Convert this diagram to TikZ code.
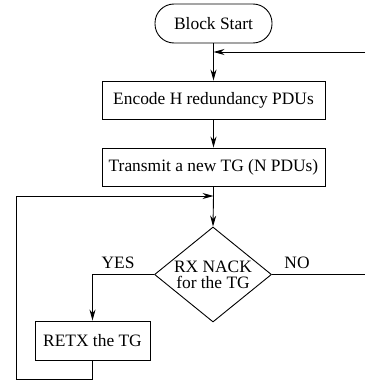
\documentclass[tikz,border=0pt]{standalone}
\usepackage{fontspec}
\setmainfont{Liberation Serif}
\usetikzlibrary{arrows.meta,shapes.geometric}
\begin{document}
\begin{tikzpicture}[x=1pt,y=-1pt,
  every node/.style={font=\fontsize{17.4}{19}\selectfont},
  ln/.style={line width=0.9pt},
  arr/.style={ln,-{Stealth[length=11pt,width=6pt]}},
  box/.style={draw,ln,inner sep=0pt,minimum height=38pt},
  dia/.style={draw,ln,diamond,inner sep=0pt,minimum width=117pt,minimum height=95pt}]
\useasboundingbox (0,0) rectangle (365,380);
\node[box,rounded corners=19pt,minimum width=117pt,minimum height=39pt] (start) at (213.5,23.5) {Block Start};
\node[box,minimum width=223pt] (enc) at (213.5,100) {Encode H redundancy PDUs};
\node[box,minimum width=223pt] (tx) at (213.5,167) {Transmit a new TG (N PDUs)};
\node[dia] (dec) at (213,274.5) {};
\node[align=center,inner sep=0pt] (dectxt) at (213,274.5) {RX NACK\\[-3pt]for the TG};
\node[box,minimum width=115pt,minimum height=39pt] (retx) at (92.5,340.5) {RETX the TG};
\node[inner sep=0pt] (yes) at (118,263) {YES};
\node[inner sep=0pt] (no) at (297,263) {NO};
\coordinate (in) at (365,52);
\coordinate (j1) at (213.5,52);
\coordinate (j2) at (213.5,196);
\coordinate (lb) at (16,379);
\coordinate (lt) at (16,196);
\coordinate (out) at (365,274.5);
\draw[ln] (start.south) -- (j1);
\draw[arr] (j1) -- (enc.north);
\draw[arr] (in) -- (j1);
\draw[arr] (enc) -- (tx);
\draw[ln] (tx.south) -- (j2);
\draw[arr] (j2) -- (dec.north);
\draw[arr] (dec.west) -| (retx.north);
\draw[ln] (dec.east) -- (out);
\draw[ln] (retx.south) |- (lb) -- (lt);
\draw[arr] (lt) -- (j2);
\end{tikzpicture}
\end{document}
